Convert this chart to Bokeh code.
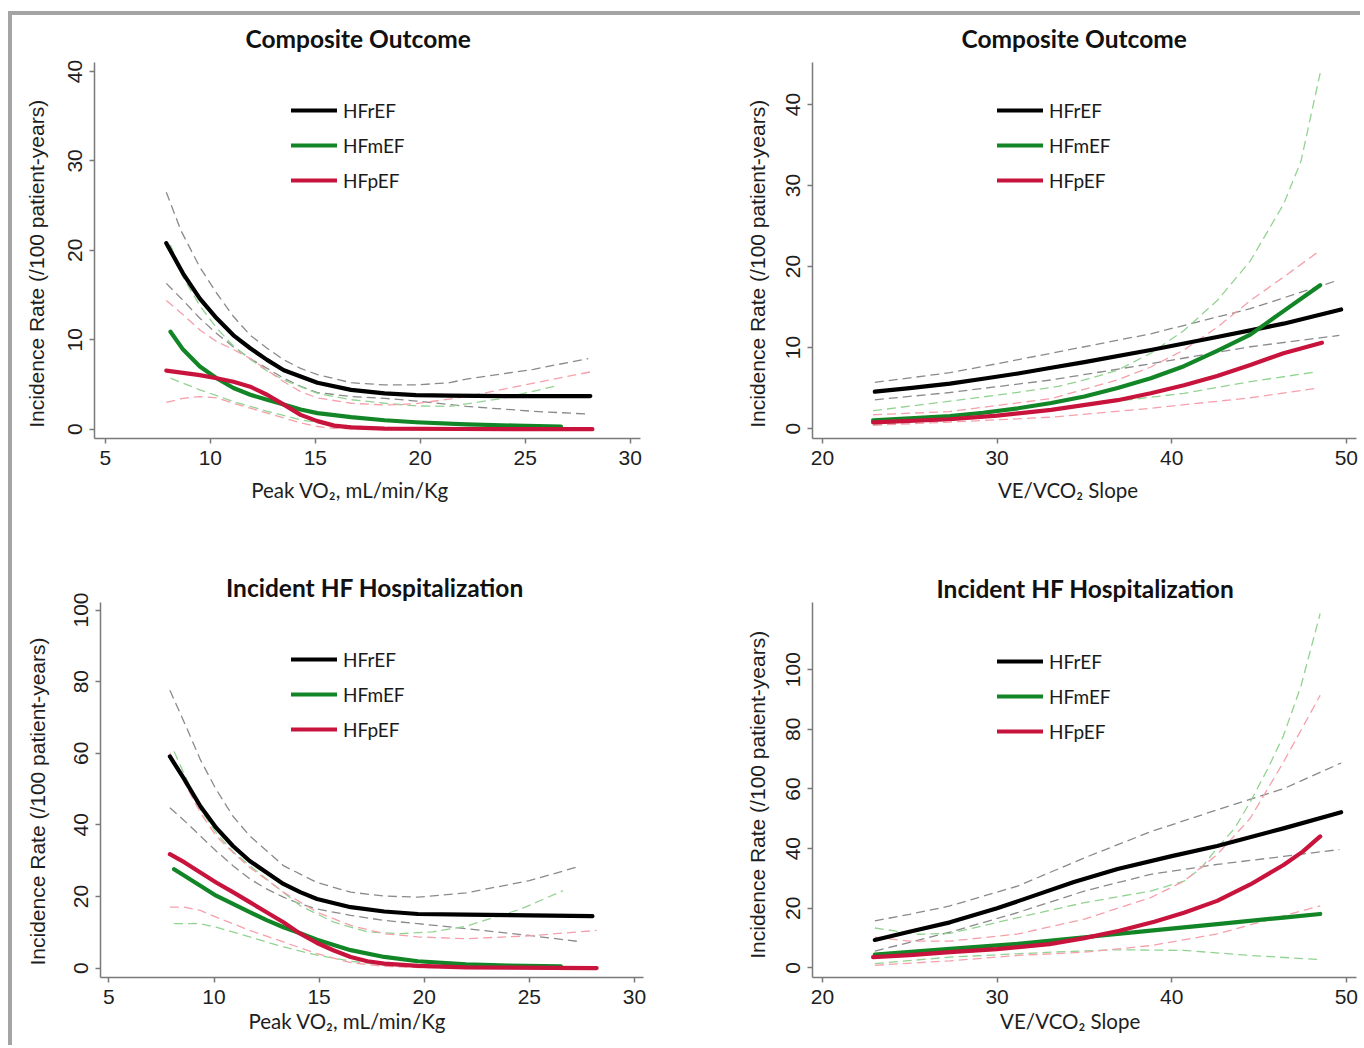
from bokeh.plotting import figure
from bokeh.layouts import row, column
from bokeh.models import Range1d, FixedTicker, Legend, LegendItem, Title
from bokeh.embed import file_html
from bokeh.resources import INLINE

# ---------------- data ----------------
groups = ["HFrEF", "HFmEF", "HFpEF"]

# Top-left: Composite outcome vs Peak VO2
tl_ref_x = [7.9, 8.7, 9.5, 10.3, 11.1, 11.9, 12.7, 13.5, 14.3, 15.1, 16.7, 18.3, 19.8, 21.4, 24.0, 28.1]
tl_ref_y = [20.8, 17.4, 14.6, 12.4, 10.5, 9.05, 7.75, 6.6, 5.9, 5.2, 4.4, 4.0, 3.8, 3.75, 3.7, 3.7]
tl_ref_hi_x = [7.9, 8.6, 9.5, 10.3, 11.1, 11.9, 12.7, 13.5, 14.3, 15.1, 16.7, 18.3, 19.8, 21.4, 22.2, 25.4, 28.0]
tl_ref_hi_y = [26.5, 22.2, 18.1, 15.2, 12.6, 10.5, 9.05, 7.75, 6.8, 6.1, 5.2, 4.95, 4.95, 5.2, 5.6, 6.7, 7.9]
tl_ref_lo_x = [7.9, 8.7, 9.5, 10.3, 11.1, 11.9, 12.7, 13.5, 14.3, 15.1, 16.7, 18.3, 19.8, 22.2, 25.4, 27.9]
tl_ref_lo_y = [16.3, 14.4, 12.4, 10.7, 9.2, 7.9, 6.8, 5.7, 4.8, 4.1, 3.65, 3.45, 3.15, 2.55, 2.0, 1.7]
tl_mid_x = [8.1, 8.7, 9.5, 10.3, 11.1, 11.9, 12.7, 13.5, 14.3, 15.1, 16.7, 18.3, 19.8, 22.2, 24.5, 26.7]
tl_mid_y = [10.9, 8.9, 7.0, 5.7, 4.6, 3.85, 3.3, 2.75, 2.2, 1.8, 1.35, 1.0, 0.78, 0.55, 0.4, 0.3]
tl_mid_hi_x = [8.1, 8.7, 9.5, 10.3, 11.1, 11.9, 12.7, 13.5, 15.1, 16.7, 18.3, 19.8, 21.4, 23.8, 26.6]
tl_mid_hi_y = [20.6, 17.0, 13.8, 11.3, 9.3, 7.8, 6.5, 5.5, 4.0, 3.3, 2.9, 2.6, 2.55, 3.4, 4.9]
tl_mid_lo_x = [8.1, 9.5, 11.1, 12.7, 14.3, 15.9, 17.5, 20.0, 23.0, 26.6]
tl_mid_lo_y = [5.7, 4.4, 3.1, 2.0, 1.05, 0.5, 0.25, 0.12, 0.07, 0.05]
tl_pre_x = [7.9, 8.7, 9.5, 10.3, 11.1, 11.9, 12.7, 13.5, 14.3, 15.1, 15.9, 16.7, 18.3, 22.0, 28.2]
tl_pre_y = [6.55, 6.3, 6.05, 5.7, 5.3, 4.75, 3.85, 2.75, 1.6, 0.9, 0.4, 0.2, 0.06, 0.02, 0.0]
tl_pre_hi_x = [7.9, 8.7, 9.5, 10.3, 11.1, 11.9, 12.7, 13.5, 14.3, 15.1, 16.7, 18.3, 19.8, 22.2, 25.4, 28.2]
tl_pre_hi_y = [14.4, 12.8, 11.1, 9.8, 8.9, 7.9, 6.6, 5.3, 4.2, 3.5, 2.9, 2.7, 2.85, 3.65, 5.15, 6.45]
tl_pre_lo_x = [7.9, 8.7, 9.5, 10.3, 11.1, 11.9, 12.7, 13.5, 14.3, 15.1, 15.9, 17.5, 28.2]
tl_pre_lo_y = [3.0, 3.45, 3.65, 3.5, 2.9, 2.35, 1.8, 1.25, 0.7, 0.3, 0.1, 0.02, 0.0]

# Top-right: Composite outcome vs VE/VCO2 slope
tr_ref_x = [23.0, 25.0, 27.3, 29.2, 31.2, 33.1, 35.0, 38.8, 42.6, 46.4, 49.7]
tr_ref_y = [4.55, 5.0, 5.55, 6.15, 6.8, 7.5, 8.2, 9.7, 11.3, 12.95, 14.7]
tr_ref_hi_x = [23.0, 27.3, 30.0, 33.1, 38.8, 44.5, 49.5]
tr_ref_hi_y = [5.7, 6.9, 8.0, 9.3, 11.7, 14.8, 18.3]
tr_ref_lo_x = [23.0, 27.3, 33.1, 38.8, 44.5, 49.6]
tr_ref_lo_y = [3.55, 4.45, 6.0, 8.0, 10.1, 11.5]
tr_mid_x = [22.9, 25.0, 27.3, 29.2, 31.2, 33.1, 35.0, 36.9, 38.8, 40.7, 42.6, 44.5, 46.4, 48.5]
tr_mid_y = [1.0, 1.25, 1.55, 1.95, 2.5, 3.15, 3.95, 5.0, 6.2, 7.7, 9.6, 11.6, 14.5, 17.7]
tr_mid_hi_x = [22.9, 27.0, 30.8, 33.5, 35.0, 36.9, 38.8, 40.7, 42.6, 44.5, 46.4, 47.4, 48.5]
tr_mid_hi_y = [2.2, 3.3, 4.35, 5.2, 6.0, 7.2, 9.3, 12.1, 15.8, 20.7, 27.7, 33.0, 43.9]
tr_mid_lo_x = [22.9, 27.3, 31.0, 35.0, 40.7, 44.5, 48.3]
tr_mid_lo_y = [0.45, 1.1, 1.9, 2.9, 4.35, 5.8, 7.0]
tr_pre_x = [22.9, 27.3, 30.0, 33.1, 36.9, 38.8, 40.7, 42.6, 44.5, 46.4, 48.6]
tr_pre_y = [0.75, 1.15, 1.6, 2.3, 3.5, 4.35, 5.35, 6.5, 7.85, 9.3, 10.6]
tr_pre_hi_x = [22.9, 27.3, 33.1, 36.9, 38.8, 40.7, 42.6, 44.5, 46.4, 48.5]
tr_pre_hi_y = [1.7, 2.1, 3.7, 6.0, 7.6, 9.7, 12.5, 15.8, 18.7, 22.0]
tr_pre_lo_x = [22.9, 27.3, 33.1, 38.8, 44.5, 48.4]
tr_pre_lo_y = [0.4, 0.8, 1.4, 2.5, 3.8, 5.0]

# Bottom-left: Incident HF hospitalization vs Peak VO2
bl_ref_x = [7.9, 8.6, 9.35, 10.1, 10.9, 11.7, 12.5, 13.3, 14.1, 14.9, 16.5, 18.1, 19.7, 22.0, 25.0, 28.0]
bl_ref_y = [59.1, 52.6, 45.2, 39.2, 34.1, 29.9, 26.7, 23.5, 21.2, 19.3, 17.0, 15.8, 15.1, 14.9, 14.7, 14.5]
bl_ref_hi_x = [7.9, 8.6, 9.35, 10.1, 10.9, 11.7, 13.3, 14.9, 16.5, 18.1, 19.7, 22.0, 25.0, 27.2]
bl_ref_hi_y = [77.6, 68.4, 58.2, 49.9, 42.4, 36.9, 28.6, 23.9, 21.2, 20.1, 19.8, 21.0, 24.4, 28.1]
bl_ref_lo_x = [7.9, 8.6, 9.35, 10.1, 10.9, 11.7, 12.5, 13.3, 14.1, 14.9, 16.5, 18.1, 19.7, 22.0, 25.0, 27.3]
bl_ref_lo_y = [44.8, 41.1, 36.9, 32.7, 28.6, 24.9, 22.1, 19.8, 17.9, 16.5, 14.7, 13.3, 12.4, 11.0, 9.1, 7.45]
bl_mid_x = [8.1, 9.35, 10.1, 10.9, 11.7, 12.5, 13.3, 14.1, 14.9, 16.5, 18.1, 19.7, 22.0, 24.0, 26.5]
bl_mid_y = [27.6, 23.0, 20.2, 17.9, 15.6, 13.4, 11.4, 9.7, 7.9, 5.0, 3.1, 1.9, 1.0, 0.7, 0.5]
bl_mid_hi_x = [8.1, 8.6, 9.35, 10.1, 10.9, 11.7, 12.5, 14.1, 15.7, 17.3, 18.9, 20.4, 22.0, 24.6, 26.6]
bl_mid_hi_y = [60.5, 54.0, 44.3, 37.8, 32.5, 28.6, 24.9, 17.4, 12.8, 10.1, 9.6, 10.1, 11.7, 16.5, 21.6]
bl_mid_lo_x = [8.1, 9.35, 10.1, 11.7, 13.3, 14.9, 16.5, 18.1, 20.5, 23.0, 26.5]
bl_mid_lo_y = [12.4, 12.4, 11.4, 8.7, 5.9, 3.6, 1.9, 0.9, 0.3, 0.1, 0.05]
bl_pre_x = [7.9, 8.6, 9.35, 10.1, 10.9, 11.7, 12.5, 13.3, 14.1, 14.9, 15.7, 16.5, 17.3, 18.1, 19.7, 22.0, 28.2]
bl_pre_y = [31.8, 29.5, 26.7, 23.9, 21.2, 18.4, 15.6, 12.8, 9.6, 7.0, 4.9, 3.1, 1.9, 1.25, 0.6, 0.2, 0.0]
bl_pre_hi_x = [7.9, 8.6, 9.35, 10.1, 10.9, 11.7, 13.3, 14.9, 16.5, 18.1, 19.7, 22.0, 25.0, 28.2]
bl_pre_hi_y = [60.1, 51.7, 43.4, 36.9, 32.3, 28.1, 21.2, 15.6, 11.9, 9.6, 8.7, 8.2, 9.0, 10.5]
bl_pre_lo_x = [7.9, 8.6, 9.35, 10.1, 10.9, 11.7, 13.3, 14.9, 16.5, 18.1, 20.0, 28.2]
bl_pre_lo_y = [17.0, 17.0, 16.1, 14.2, 12.4, 10.5, 7.3, 4.0, 1.5, 0.5, 0.1, 0.0]

# Bottom-right: Incident HF hospitalization vs VE/VCO2 slope
br_ref_x = [23.0, 25.1, 27.3, 30.0, 32.0, 34.4, 36.9, 40.0, 42.6, 46.4, 49.7]
br_ref_y = [9.4, 12.3, 15.3, 20.0, 24.0, 28.8, 33.2, 37.5, 40.9, 46.8, 52.2]
br_ref_hi_x = [23.0, 25.0, 27.3, 31.2, 35.0, 38.8, 42.6, 46.4, 49.7]
br_ref_hi_y = [15.8, 18.0, 20.8, 27.5, 36.9, 45.7, 53.0, 60.1, 68.7]
br_ref_lo_x = [23.0, 27.3, 31.2, 35.0, 38.8, 42.6, 46.4, 49.6]
br_ref_lo_y = [5.65, 12.0, 18.6, 25.8, 31.4, 34.7, 37.4, 39.7]
br_mid_x = [23.0, 27.3, 31.2, 35.0, 38.8, 42.6, 46.4, 48.5]
br_mid_y = [4.45, 6.4, 8.1, 10.3, 12.5, 14.7, 16.9, 18.1]
br_mid_hi_x = [23.0, 25.5, 27.3, 31.2, 35.0, 38.8, 40.7, 41.7, 42.6, 43.6, 44.5, 45.5, 46.4, 47.4, 48.5]
br_mid_hi_y = [13.4, 11.3, 11.6, 16.9, 21.9, 25.8, 29.1, 33.6, 40.2, 46.8, 55.7, 66.8, 77.9, 94.5, 118.8]
br_mid_lo_x = [23.0, 27.3, 33.1, 36.9, 40.7, 44.5, 48.5]
br_mid_lo_y = [1.45, 3.65, 5.3, 6.1, 5.9, 4.2, 2.8]
br_pre_x = [22.9, 25.0, 27.3, 30.0, 33.0, 35.0, 37.0, 39.0, 40.7, 42.6, 44.5, 46.4, 47.5, 48.5]
br_pre_y = [3.65, 4.3, 5.3, 6.3, 8.0, 10.0, 12.5, 15.5, 18.5, 22.5, 28.0, 34.5, 39.0, 44.1]
br_pre_hi_x = [23.0, 25.0, 27.3, 31.2, 35.0, 38.8, 40.7, 42.6, 44.5, 46.4, 48.5]
br_pre_hi_y = [10.3, 9.0, 9.0, 11.4, 16.4, 23.6, 29.1, 38.0, 50.2, 69.0, 91.4]
br_pre_lo_x = [23.0, 27.3, 31.2, 35.0, 38.8, 42.6, 46.4, 48.5]
br_pre_lo_y = [0.9, 2.4, 4.2, 5.3, 7.5, 11.4, 17.5, 20.8]

vo2_ticks = [5, 10, 15, 20, 25, 30]
ve_ticks = [20, 30, 40, 50]
comp_yticks = [0, 10, 20, 30, 40]
hosp_yticks = [0, 20, 40, 60, 80, 100]

# ---------------- styling ----------------
LINE_COLORS = ["#000000", "#128527", "#c8143c"]
CI_COLORS = ["#8a8a8a", "#92d392", "#f5a0ab"]
AXIS_GREY = "#7a7a7a"
TEXT = "#1e1e1e"
FRAME_GREY = "#a4a4a4"


def make_panel(size, borders, xr, yr, xticks, yticks,
               title, title_cfg, xlabel, xlabel_cfg, ylabel_cfg,
               curves, cis, legend_xy):
    (w, h), (bl, br, bt, bb) = size, borders
    p = figure(width=w, height=h, x_range=Range1d(*xr), y_range=Range1d(*yr),
               output_backend="svg", toolbar_location=None,
               min_border_left=bl, min_border_right=br,
               min_border_top=bt, min_border_bottom=bb,
               background_fill_color="white", border_fill_alpha=0)
    p.outline_line_color = None
    p.xgrid.visible = False
    p.ygrid.visible = False

    # plot title (left aligned with a pixel offset from the frame's left edge)
    p.title.text = title
    p.title.align = "left"
    p.title.offset = title_cfg[0]
    p.title.standoff = title_cfg[1]
    p.title.text_font = "Lato"
    p.title.text_font_style = "bold"
    p.title.text_font_size = "24.5px"
    p.title.text_color = "#111111"

    for ax in (p.xaxis[0], p.yaxis[0]):
        ax.axis_line_color = AXIS_GREY
        ax.axis_line_width = 1.5
        ax.major_tick_line_color = AXIS_GREY
        ax.major_tick_line_width = 1.5
        ax.major_tick_out = 5
        ax.major_tick_in = 0
        ax.minor_tick_out = 0
        ax.minor_tick_in = 0
        ax.major_label_text_font = "Liberation Sans"
        ax.major_label_text_font_size = "21px"
        ax.major_label_text_color = TEXT
    p.xaxis.major_label_standoff = 7
    p.yaxis.major_label_standoff = 7
    p.xaxis.ticker = FixedTicker(ticks=xticks)
    p.yaxis.ticker = FixedTicker(ticks=yticks)
    p.yaxis.major_label_orientation = "vertical"

    p.add_layout(Title(text=xlabel, align="left", offset=xlabel_cfg[0],
                       standoff=xlabel_cfg[1], text_font="Lato",
                       text_font_size="20.5px", text_font_style="normal",
                       text_color=TEXT), "below")
    p.add_layout(Title(text="Incidence Rate (/100 patient-years)", align="left",
                       offset=ylabel_cfg[0], standoff=ylabel_cfg[1],
                       text_font="Liberation Sans", text_font_size="21px",
                       text_font_style="normal", text_color=TEXT), "left")

    for (cx, cy), col in zip(cis, [c for c in CI_COLORS for _ in (0, 1)]):
        p.line(cx, cy, line_color=col, line_width=1.3, line_dash="9 5")

    rends = []
    for (cx, cy), col in zip(curves, LINE_COLORS):
        rends.append(p.line(cx, cy, line_color=col, line_width=4.2,
                            line_join="round", line_cap="round"))

    leg = Legend(items=[LegendItem(label=g, renderers=[r]) for g, r in zip(groups, rends)],
                 location=legend_xy, orientation="vertical",
                 glyph_width=46, glyph_height=24, label_height=24,
                 label_standoff=6, spacing=11, padding=0, margin=0,
                 border_line_alpha=0, background_fill_alpha=0,
                 label_text_font="Lato", label_text_font_size="19px",
                 label_text_color="#1a1a1a")
    p.add_layout(leg)
    return p


p1 = make_panel((690, 540), (94, 50, 62, 101),
                (4.48, 30.49), (-1.04, 41.0), vo2_ticks, comp_yticks,
                "Composite Outcome", (151, 20), "Peak VO\u2082, mL/min/Kg", (156.7, 16),
                (10.7, 36),
                [(tl_ref_x, tl_ref_y), (tl_mid_x, tl_mid_y), (tl_pre_x, tl_pre_y)],
                [(tl_ref_hi_x, tl_ref_hi_y), (tl_ref_lo_x, tl_ref_lo_y),
                 (tl_mid_hi_x, tl_mid_hi_y), (tl_mid_lo_x, tl_mid_lo_y),
                 (tl_pre_hi_x, tl_pre_hi_y), (tl_pre_lo_x, tl_pre_lo_y)],
                (197, 246))

p2 = make_panel((670, 540), (122, 4, 61, 102),
                (19.43, 50.58), (-1.23, 45.2), ve_ticks, comp_yticks,
                "Composite Outcome", (149, 20), "VE/VCO\u2082 Slope", (185.4, 16),
                (10.7, 29),
                [(tr_ref_x, tr_ref_y), (tr_mid_x, tr_mid_y), (tr_pre_x, tr_pre_y)],
                [(tr_ref_hi_x, tr_ref_hi_y), (tr_ref_lo_x, tr_ref_lo_y),
                 (tr_mid_hi_x, tr_mid_hi_y), (tr_mid_lo_x, tr_mid_lo_y),
                 (tr_pre_hi_x, tr_pre_hi_y), (tr_pre_lo_x, tr_pre_lo_y)],
                (185, 246))

p3 = make_panel((690, 505), (100, 47, 62, 66),
                (4.6, 30.43), (-2.64, 102.1), vo2_ticks, hosp_yticks,
                "Incident HF Hospitalization", (125.5, 2), "Peak VO\u2082, mL/min/Kg", (148, 0),
                (12, 46),
                [(bl_ref_x, bl_ref_y), (bl_mid_x, bl_mid_y), (bl_pre_x, bl_pre_y)],
                [(bl_ref_hi_x, bl_ref_hi_y), (bl_ref_lo_x, bl_ref_lo_y),
                 (bl_mid_hi_x, bl_mid_hi_y), (bl_mid_lo_x, bl_mid_lo_y),
                 (bl_pre_hi_x, bl_pre_hi_y), (bl_pre_lo_x, bl_pre_lo_y)],
                (191, 236))

p4 = make_panel((670, 505), (122, 4, 60, 68),
                (19.43, 50.58), (-3.19, 122.5), ve_ticks, hosp_yticks,
                "Incident HF Hospitalization", (124, 0), "VE/VCO\u2082 Slope", (187.6, 0),
                (18.7, 29),
                [(br_ref_x, br_ref_y), (br_mid_x, br_mid_y), (br_pre_x, br_pre_y)],
                [(br_ref_hi_x, br_ref_hi_y), (br_ref_lo_x, br_ref_lo_y),
                 (br_mid_hi_x, br_mid_hi_y), (br_mid_lo_x, br_mid_lo_y),
                 (br_pre_hi_x, br_pre_hi_y), (br_pre_lo_x, br_pre_lo_y)],
                (185, 234))

# grey page frame (top and left edges) drawn behind the transparent figures
frame_css = {
    "background-image": f"linear-gradient({FRAME_GREY},{FRAME_GREY}), "
                        f"linear-gradient({FRAME_GREY},{FRAME_GREY})",
    "background-size": "100% 4px, 4px 100%",
    "background-position": "8px 11px, 8px 11px",
    "background-repeat": "no-repeat",
    "background-color": "white",
}
layout = column(row(p1, p2), row(p3, p4), styles=frame_css)

open("out.html", "w").write(file_html(layout, INLINE))
